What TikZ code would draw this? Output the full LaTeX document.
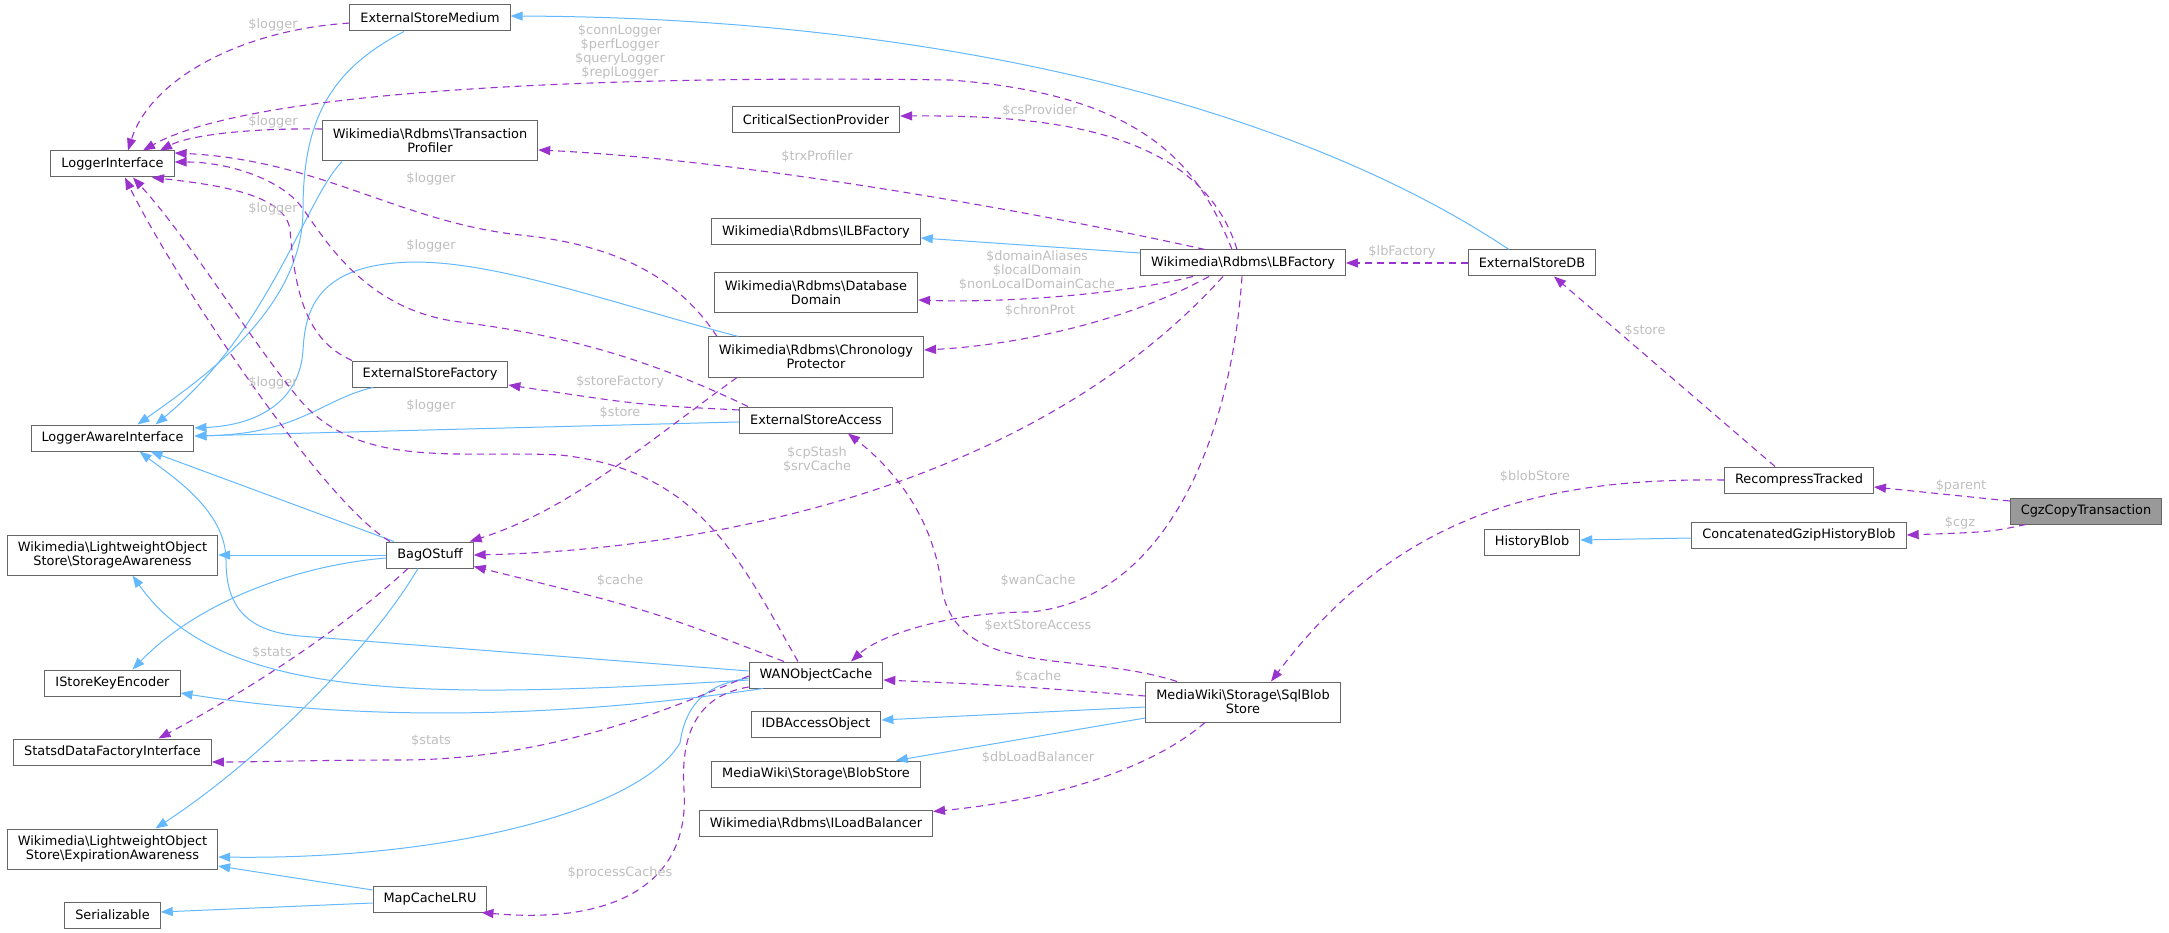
\documentclass[tikz,border=0pt]{standalone}
\usepackage{fontspec}
\setmainfont{DejaVu Sans}
\usetikzlibrary{arrows.meta}
\definecolor{azul}{HTML}{63B8FF}
\definecolor{morado}{HTML}{9A32CD}
\definecolor{gris}{HTML}{666666}
\definecolor{grisclaro}{HTML}{BEBEBE}
\definecolor{relleno}{HTML}{999999}
\newcommand{\bsl}{\textbackslash}

\begin{document}
\begin{tikzpicture}[x=1pt, y=-1pt, font=\fontsize{12.9}{14}\selectfont,
      >={Triangle[length=12pt,width=9pt]},
      caja/.style={draw=gris, line width=1pt, inner xsep=10.5pt, inner ysep=2pt,
                   minimum height=26pt, align=center},
      doble/.style={caja, minimum height=40pt},
      hereda/.style={->, azul, line width=1pt},
      usa/.style={->, morado, line width=1.1pt, dash pattern=on 7pt off 5pt},
      etiq/.style={text=grisclaro, inner sep=0pt, align=center}]
    \useasboundingbox (0,0) rectangle (2169,933);
    % columna izquierda
    \node[caja] (li) at (112.5,164) {LoggerInterface};
    \node[caja] (lai) at (112.5,438) {LoggerAwareInterface};
    \node[doble] (sa) at (112.5,555) {Wikimedia\bsl LightweightObject\\Store\bsl StorageAwareness};
    \node[caja] (iske) at (112.5,683) {IStoreKeyEncoder};
    \node[caja] (sdfi) at (112.5,752) {StatsdDataFactoryInterface};
    \node[doble] (ea) at (112.5,849) {Wikimedia\bsl LightweightObject\\Store\bsl ExpirationAwareness};
    \node[caja] (ser) at (112.5,915) {Serializable};
    % segunda columna
    \node[caja] (esm) at (430,18) {ExternalStoreMedium};
    \node[doble] (tp) at (430,141) {Wikimedia\bsl Rdbms\bsl Transaction\\Profiler};
    \node[caja] (esf) at (430,374) {ExternalStoreFactory};
    \node[caja] (bag) at (430,555) {BagOStuff};
    \node[caja] (mclru) at (430,899) {MapCacheLRU};
    % tercera columna
    \node[caja] (csp) at (816,120) {CriticalSectionProvider};
    \node[caja] (ilbf) at (816,232) {Wikimedia\bsl Rdbms\bsl ILBFactory};
    \node[doble] (dd) at (816,293) {Wikimedia\bsl Rdbms\bsl Database\\Domain};
    \node[doble] (chrono) at (816,357) {Wikimedia\bsl Rdbms\bsl Chronology\\Protector};
    \node[caja] (esa) at (816,420) {ExternalStoreAccess};
    \node[caja] (wan) at (816,675) {WANObjectCache};
    \node[caja] (idbao) at (816,724) {IDBAccessObject};
    \node[caja] (bs) at (816,774) {MediaWiki\bsl Storage\bsl BlobStore};
    \node[caja] (ilb) at (816,823) {Wikimedia\bsl Rdbms\bsl ILoadBalancer};
    % derecha
    \node[caja] (lbf) at (1243,263) {Wikimedia\bsl Rdbms\bsl LBFactory};
    \node[doble] (sbs) at (1243,702) {MediaWiki\bsl Storage\bsl SqlBlob\\Store};
    \node[caja] (esdb) at (1532,263) {ExternalStoreDB};
    \node[caja] (hb) at (1532,542) {HistoryBlob};
    \node[caja] (rt) at (1799,480) {RecompressTracked};
    \node[caja] (cghb) at (1799,535) {ConcatenatedGzipHistoryBlob};
    \node[caja, fill=relleno] (cgz) at (2086,511) {CgzCopyTransaction};
    % herencia
    \draw[hereda] ([xshift=-23pt]esdb.north) .. controls (1300,110) and (950,18) .. ([yshift=2pt]esm.east);
    \draw[hereda] ([xshift=-26pt]esm.south) .. controls (330,70) and (303,120) .. (303,210)
                  .. controls (303,310) and (200,380) .. ([xshift=25pt]lai.north);
    \draw[hereda] ([xshift=-88pt]tp.south) .. controls (305,200) and (270,330) .. ([xshift=43pt]lai.north);
    \draw[hereda] (chrono) .. controls (600,300) and (480,255) .. (395,263) .. controls (310,270) and (305,320) .. (303,350)
                  .. controls (300,400) and (260,425) .. ([yshift=10pt]lai.east);
    \draw[hereda] (esf) .. controls (320,400) and (300,434) .. ([yshift=2pt]lai.east);
    \draw[hereda] (esa) -- ([yshift=2pt]lai.east);
    \draw[hereda] ([xshift=-36pt]bag.north) -- ([xshift=38pt]lai.south);
    \draw[hereda] ([yshift=4pt]wan.west) -- (300,636) .. controls (240,631) and (226,600) .. (226,560)
                  .. controls (226,510) and (170,475) .. ([xshift=27pt]lai.south);
    \draw[hereda] (bag) -- (sa);
    \draw[hereda] ([yshift=-3pt]bag.west) .. controls (300,565) and (200,600) .. ([xshift=20pt]iske.north);
    \draw[hereda] ([xshift=-12pt]bag.south) .. controls (370,650) and (260,760) .. ([xshift=43pt]ea.north);
    \draw[hereda] ([yshift=-5pt]wan.west) .. controls (420,700) and (220,700) .. ([xshift=20pt]sa.south);
    \draw[hereda] ([xshift=-53pt]wan.south) .. controls (550,720) and (350,720) .. ([yshift=-10pt]iske.east);
    \draw[hereda] ([yshift=-3pt]wan.west) .. controls (700,685) and (685,710) .. (680,743)
                  .. controls (640,810) and (450,860) .. ([yshift=-8pt]ea.east);
    \draw[hereda] ([yshift=9pt]mclru.west) -- ([yshift=-17pt]ea.east);
    \draw[hereda] ([yshift=-4pt]mclru.west) -- ([yshift=3pt]ser.east);
    \draw[hereda] ([yshift=10pt]lbf.west) -- ([yshift=-6pt]ilbf.east);
    \draw[hereda] ([yshift=-5pt]sbs.west) -- ([yshift=4pt]idbao.east);
    \draw[hereda] ([yshift=-16pt]sbs.west) -- ([xshift=-25pt]bs.north east);
    \draw[hereda] ([yshift=-3pt]cghb.west) -- ([yshift=2pt]hb.east);
    % uso
    \draw[usa] (esm) .. controls (240,30) and (150,80) .. ([xshift=15.5pt]li.north)
               node[etiq] at (273,25) {\$logger};
    \draw[usa] ([xshift=-11pt]lbf.north) .. controls (1200,170) and (1150,95) .. (950,80)
               .. controls (600,75) and (250,90) .. ([xshift=30.5pt]li.north)
               node[etiq] at (620,52) {\$connLogger\\\$perfLogger\\\$queryLogger\\\$replLogger};
    \draw[usa] ([yshift=12pt]tp.west) .. controls (250,128) and (190,135) .. ([xshift=47.5pt]li.north)
               node[etiq] at (273,122) {\$logger};
    \draw[usa] ([xshift=-99pt]chrono.north) .. controls (680,280) and (620,245) .. (520,235)
               .. controls (400,222) and (320,160) .. ([yshift=11pt]li.east)
               node[etiq] at (431,179) {\$logger};
    \draw[usa] ([xshift=-78pt]esf.north) .. controls (305,340) and (295,290) .. (290,230)
               .. controls (286,195) and (220,185) .. ([xshift=39.5pt]li.south)
               node[etiq] at (273,209) {\$logger};
    \draw[usa] ([xshift=-68pt]esa.north) .. controls (640,355) and (560,335) .. (460,322)
               .. controls (360,310) and (320,230) .. (300,205) .. controls (280,180) and (230,162) .. ([yshift=2pt]li.east)
               node[etiq] at (431,246) {\$logger};
    \draw[usa] ([xshift=-40pt]bag.north) .. controls (320,500) and (170,270) .. ([xshift=12.5pt]li.south)
               node[etiq] at (273,383) {\$logger};
    \draw[usa] ([xshift=-18pt]wan.north) .. controls (740,560) and (700,470) .. (560,455)
               .. controls (460,450) and (360,470) .. (300,400) .. controls (250,340) and (190,240) .. ([xshift=20.5pt]li.south)
               node[etiq] at (431,406) {\$logger};
    \draw[usa] ([xshift=-6pt]lbf.north) .. controls (1200,130) and (1050,115) .. ([yshift=4pt]csp.east)
               node[etiq] at (1040,111) {\$csProvider};
    \draw[usa] ([xshift=-38pt]lbf.north) .. controls (1050,215) and (750,160) .. ([yshift=-9pt]tp.east)
               node[etiq] at (817,157) {\$trxProfiler};
    \draw[usa] ([xshift=-50pt]lbf.south) .. controls (1120,295) and (1000,303) .. ([yshift=-7pt]dd.east)
               node[etiq] at (1037,271) {\$domainAliases\\\$localDomain\\\$nonLocalDomainCache};
    \draw[usa] ([xshift=-34pt]lbf.south) .. controls (1130,320) and (1020,345) .. ([yshift=7pt]chrono.east)
               node[etiq] at (1040,311) {\$chronProt};
    \draw[usa] ([xshift=-20pt]lbf.south) .. controls (1030,490) and (700,550) .. (bag.east)
               node[etiq] at (817,460) {\$cpStash\\\$srvCache};
    \draw[usa] ([xshift=-1pt]lbf.south) .. controls (1230,450) and (1160,600) .. (1030,612)
               .. controls (950,612) and (880,635) .. ([xshift=35pt]wan.north)
               node[etiq] at (1038,581) {\$wanCache};
    \draw[usa] (esdb) -- (lbf) node[etiq] at (1402,252) {\$lbFactory};
    \draw[usa] ([xshift=-24pt]rt.north) -- ([xshift=22pt]esdb.south) node[etiq] at (1645,331) {\$store};
    \draw[usa] (rt.west) .. controls (1550,478) and (1400,510) .. ([xshift=28pt]sbs.north)
               node[etiq] at (1535,477) {\$blobStore};
    \draw[usa] ([yshift=10pt]cgz.west) -- ([yshift=-7pt]rt.east) node[etiq] at (1961,486) {\$parent};
    \draw[usa] ([xshift=-60pt]cgz.south) .. controls (1990,532) .. (cghb.east) node[etiq] at (1960,523) {\$cgz};
    \draw[usa] ([yshift=10pt]esa.west) .. controls (640,405) .. ([yshift=-11pt]esf.east)
               node[etiq] at (620,382) {\$storeFactory};
    \draw[usa] ([xshift=-79pt]chrono.south) .. controls (650,440) and (570,510) .. ([xshift=-4pt]bag.north east)
               node[etiq] at (620,413) {\$store};
    \draw[usa] ([xshift=-32pt]wan.north) .. controls (650,610) .. ([yshift=2pt]bag.south east)
               node[etiq] at (620,581) {\$cache};
    \draw[usa] ([xshift=-22pt]bag.south) .. controls (330,640) and (230,700) .. ([xshift=46pt]sdfi.north)
               node[etiq] at (272,653) {\$stats};
    \draw[usa] ([yshift=-1pt]wan.west) .. controls (690,700) and (560,760) .. (400,760)
               .. controls (320,760) and (260,762) .. ([yshift=-10pt]sdfi.east)
               node[etiq] at (431,741) {\$stats};
    \draw[usa] ([yshift=-12pt]wan.west) .. controls (700,695) and (680,730) .. (684,790)
               .. controls (690,880) and (620,925) .. ([xshift=-6pt]mclru.south east)
               node[etiq] at (620,873) {\$processCaches};
    \draw[usa] ([yshift=6pt]sbs.west) .. controls (1000,685) .. ([yshift=-5pt]wan.east)
               node[etiq] at (1038,677) {\$cache};
    \draw[usa] ([xshift=-66pt]sbs.north) .. controls (1080,650) and (960,680) .. (942,590)
               .. controls (935,520) and (895,470) .. ([xshift=32pt]esa.south)
               node[etiq] at (1038,626) {\$extStoreAccess};
    \draw[usa] ([xshift=-38pt]sbs.south) .. controls (1150,770) and (1050,800) .. ([yshift=-2pt]ilb.north east)
               node[etiq] at (1038,758) {\$dbLoadBalancer};
  \end{tikzpicture}
\end{document}
